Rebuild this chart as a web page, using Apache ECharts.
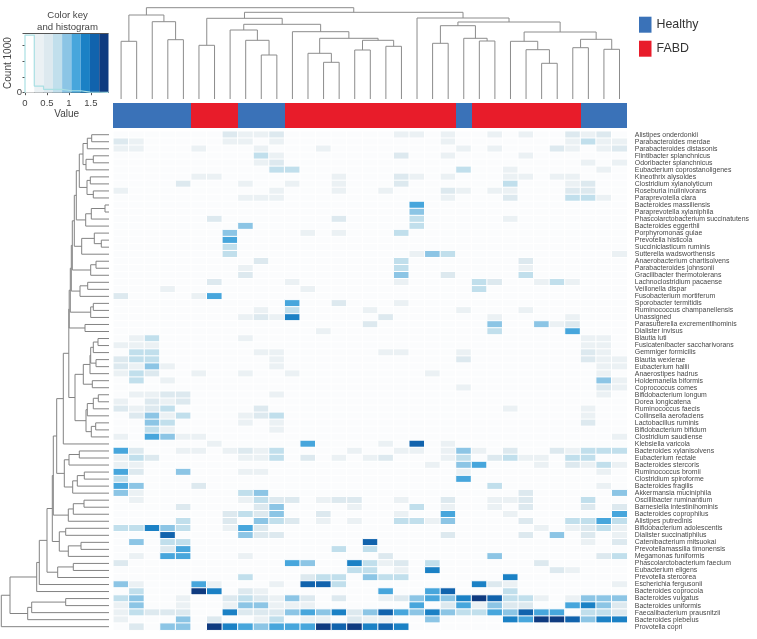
<!DOCTYPE html>
<html><head><meta charset="utf-8">
<style>html,body{margin:0;padding:0;background:#fff}#c{width:757px;height:639px}</style>
<script src="https://cdn.jsdelivr.net/npm/echarts@6/dist/echarts.min.js"></script>
</head><body><div id="c"></div>
<script>
const species = ["Alistipes onderdonkii","Parabacteroides merdae","Parabacteroides distasonis","Flintibacter splanchnicus","Odoribacter splanchnicus","Eubacterium coprostanoligenes","Kineothrix alysoides","Clostridium xylanolyticum","Roseburia inulinivorans","Paraprevotella clara","Bacteroides massiliensis","Paraprevotella xylaniphila","Phascolarctobacterium succinatutens","Bacteroides eggerthii","Porphyromonas gulae","Prevotella histicola","Succiniclasticum ruminis","Sutterella wadsworthensis","Anaerobacterium chartisolvens","Parabacteroides johnsonii","Gracilibacter thermotolerans","Lachnoclostridium pacaense","Veillonella dispar","Fusobacterium mortiferum","Sporobacter termitidis","Ruminococcus champanellensis","Unassigned","Parasutterella excrementihominis","Dialister invisus","Blautia luti","Fusicatenibacter saccharivorans","Gemmiger formicilis","Blautia wexlerae","Eubacterium hallii","Anaerostipes hadrus","Holdemanella biformis","Coprococcus comes","Bifidobacterium longum","Dorea longicatena","Ruminococcus faecis","Collinsella aerofaciens","Lactobacillus ruminis","Bifidobacterium bifidum","Clostridium saudiense","Klebsiella varicola","Bacteroides xylanisolvens","Eubacterium rectale","Bacteroides stercoris","Ruminococcus bromii","Clostridium spiroforme","Bacteroides fragilis","Akkermansia muciniphila","Oscillibacter ruminantium","Barnesiella intestinihominis","Bacteroides coprophilus","Alistipes putredinis","Bifidobacterium adolescentis","Dialister succinatiphilus","Catenibacterium mitsuokai","Prevotellamassilia timonensis","Megamonas funiformis","Phascolarctobacterium faecium","Eubacterium eligens","Prevotella stercorea","Escherichia fergusonii","Bacteroides coprocola","Bacteroides vulgatus","Bacteroides uniformis","Faecalibacterium prausnitzii","Bacteroides plebeius","Provotella copri"];

const groupNames = ["Healthy","FABD"];
const healthyCols = [0,1,2,3,4,8,9,10,22,30,31,32];
const fabdCols = [5,6,7,11,12,13,14,15,16,17,18,19,20,21,23,24,25,26,27,28,29];

const keyMax = 1.9;
const binCount = 9;
const binColors = ["#fbfcfd","#ebf1f4","#dde9ef","#c1dfec","#8cc5e5","#47a6dc","#1b81c5","#1163ad","#0f3b80"];
const keyBandColors = ["#ffffff","#ebf1f4","#dde9ef","#c1dfec","#8cc5e5","#47a6dc","#1b81c5","#1163ad","#0f3b80"];
const histCounts = [3650,420,215,215,125,125,40,30,20];
const keyXTicks = [0,0.5,1,1.5];
const keyYTicks = [0,1000,2000,3000,3750];

// per row: [column, colour-key bin]
const cellBins = [
[[7,2],[8,1],[9,1],[10,2],[18,1],[19,1],[21,1],[24,1],[26,1],[29,2],[30,1],[31,2]],
[[0,2],[1,1],[7,1],[8,1],[10,1],[21,1],[29,1],[30,3],[31,1],[32,1]],
[[0,1],[1,1],[5,1],[9,1],[13,1],[22,1],[24,1],[28,2],[29,1],[31,1],[32,2]],
[[9,3],[10,1],[18,2],[21,1],[26,1]],
[[9,1],[10,2],[30,1],[32,1]],
[[10,3],[11,3],[22,3],[25,1],[31,1]],
[[5,1],[6,1],[14,1],[18,2],[19,1],[21,1],[25,1],[26,1],[28,1],[29,1]],
[[4,2],[8,1],[11,1],[14,1],[18,2],[25,3],[29,1],[30,2]],
[[0,1],[10,1],[14,1],[17,1],[21,2],[22,1],[24,1],[25,1],[29,2],[30,2]],
[[8,1],[9,1],[10,1],[21,1],[25,2],[29,3],[30,3],[31,1]],
[[19,5]],
[[19,4]],
[[6,2],[14,2],[19,3],[25,1]],
[[8,4],[19,3]],
[[7,4],[12,1],[14,1],[18,3]],
[[7,5]],
[[7,3]],
[[7,3],[19,1],[20,4],[21,3],[32,1]],
[[9,2],[18,3],[26,2]],
[[8,1],[18,3],[26,1]],
[[8,2],[18,4],[21,2],[26,3]],
[[6,2],[11,1],[18,1],[23,3],[24,2],[27,1],[28,3],[29,1]],
[[3,1],[12,1],[23,3]],
[[0,2],[5,1],[6,5]],
[[11,5],[14,2],[18,1]],
[[9,1],[11,3],[16,1],[22,1],[26,1]],
[[8,1],[9,2],[10,1],[11,6],[17,2],[24,1],[29,1]],
[[16,2],[24,4],[27,4],[28,1],[29,2]],
[[13,1],[24,3],[29,5]],
[[1,1],[2,3],[8,1],[30,1],[31,1]],
[[0,1],[1,1],[2,1],[30,1],[31,1]],
[[1,3],[2,3],[9,1],[10,1],[17,1],[18,1],[22,1],[30,2],[31,1]],
[[0,2],[1,3],[2,3],[10,1],[22,2],[30,2],[31,1],[32,1]],
[[0,2],[1,1],[2,4],[3,1],[10,1],[31,1],[32,1]],
[[0,1],[1,3],[2,2],[5,1],[8,1],[11,1],[20,1],[31,1]],
[[1,3],[3,1],[31,4],[32,1]],
[[22,1],[31,2],[32,1]],
[[1,1],[2,1],[3,2],[4,2],[10,1],[31,1]],
[[0,1],[2,2],[3,1],[4,2]],
[[0,2],[1,1],[2,2],[3,3],[9,2],[25,1],[30,1]],
[[1,2],[2,4],[3,1],[4,3],[8,1],[9,2],[10,3],[30,1]],
[[2,4],[3,3],[8,1],[10,1],[30,2]],
[[2,3],[3,1],[10,1]],
[[0,1],[2,5],[3,4],[4,1],[5,1],[32,1]],
[[6,1],[12,5],[17,1],[19,7],[21,1]],
[[0,5],[1,2],[4,1],[5,1],[7,1],[8,2],[9,1],[10,3],[15,1],[18,1],[19,1],[21,1],[22,4],[23,1],[25,2],[28,2],[29,1],[30,3],[31,3],[32,3]],
[[0,1],[1,3],[2,2],[8,1],[9,1],[10,3],[12,2],[14,1],[16,1],[17,2],[21,1],[22,3],[24,2],[25,3],[26,1],[27,1],[29,3],[30,3]],
[[0,1],[1,1],[20,1],[22,4],[23,5],[27,1],[29,2],[30,1],[31,3],[32,1]],
[[0,5],[1,2],[4,4],[8,1],[9,1],[22,1],[31,1]],
[[0,3],[22,5]],
[[0,5],[1,4],[5,2],[24,3],[31,1]],
[[0,4],[1,1],[8,3],[9,4],[26,2],[32,4]],
[[1,1],[8,1],[9,3],[10,2],[11,2],[13,1],[14,2],[15,2],[18,1],[21,2],[24,1],[25,1],[26,2],[30,3]],
[[4,2],[9,2],[10,4],[15,1],[19,3],[21,1],[24,1],[26,2],[30,2],[32,2]],
[[7,2],[8,3],[9,2],[10,4],[13,2],[18,1],[21,5],[25,1],[32,5]],
[[4,3],[7,2],[9,4],[10,3],[11,2],[13,1],[15,1],[18,3],[19,3],[20,1],[21,4],[26,2],[29,3],[30,3],[31,5],[32,3]],
[[0,3],[1,3],[2,6],[3,4],[4,3],[7,1],[8,5],[9,2],[27,1],[29,1],[30,2],[31,3],[32,1]],
[[3,7],[8,4],[9,2],[10,2],[21,2],[26,2],[28,4],[30,2],[32,1]],
[[1,4],[3,3],[4,3],[16,7],[30,1],[32,2]],
[[3,2],[4,5],[14,3],[16,3]],
[[1,1],[3,5],[4,5],[8,1],[17,2],[24,4],[31,2],[32,3]],
[[0,2],[11,5],[12,4],[15,6],[16,3],[17,1],[18,2],[20,3],[27,2]],
[[15,3],[16,3],[18,1],[20,6],[28,2],[29,1]],
[[8,3],[12,2],[13,3],[14,3],[16,4],[17,3],[18,3],[25,6]],
[[0,4],[1,1],[5,5],[6,1],[10,1],[12,7],[13,7],[14,3],[23,6],[24,2],[25,1],[32,1]],
[[1,3],[5,8],[6,6],[8,2],[9,1],[17,5],[20,5],[21,7],[25,3]],
[[0,3],[1,4],[4,1],[7,2],[8,3],[9,2],[10,1],[11,4],[12,2],[14,2],[17,1],[18,2],[19,4],[20,5],[21,4],[22,6],[23,8],[24,7],[25,3],[26,3],[27,1],[29,1],[30,4],[31,4],[32,4]],
[[0,1],[1,4],[4,1],[7,1],[8,4],[9,4],[10,1],[11,1],[12,1],[19,5],[21,2],[22,5],[23,1],[24,4],[25,2],[26,2],[29,5],[30,6],[31,4],[32,2]],
[[0,1],[1,3],[2,2],[3,2],[4,2],[7,6],[8,2],[9,2],[10,2],[11,4],[12,5],[13,4],[14,6],[15,2],[16,4],[17,7],[18,5],[19,4],[20,6],[21,4],[22,3],[23,3],[24,5],[25,4],[26,7],[27,5],[28,5],[30,3],[31,3],[32,2]],
[[0,1],[4,4],[6,2],[9,1],[10,3],[12,1],[13,1],[15,2],[16,1],[17,1],[20,4],[25,6],[26,5],[27,8],[28,8],[29,7],[30,4],[31,6],[32,6]],
[[1,2],[3,4],[4,4],[6,8],[7,6],[8,5],[9,4],[10,5],[11,5],[12,5],[13,8],[14,7],[15,8],[16,6],[17,7],[18,6]]
];

// dendrograms: [merge height, child, child]; a plain number is a leaf
const topTree = [91.3,
  [84,[57.7,0,1],[77.3,2,[59.3,3,4]]],
  [86.7,
    [80.7,[53.7,5,6],[74.7,
      [69,7,[58.7,8,[44,9,10]]],
      [67.3,11,[60.7,[45.7,12,[36.7,13,14]],[58.7,[49,15,16],[52.7,17,18]]]]
    ]],
    [81,19,[77,
      [73.3,[55.7,20,21],[60.7,22,[58,23,24]]],
      [67,[57.7,25,[49.3,26,[35.7,27,28]]],[59.7,[51.3,29,30],[49.7,31,32]]]
    ]]
  ]
];

const rowsA = [32.7,
  [29.7,
    [26,[21.7,[17.3,0,1],2],[23,[15.7,3,4],5]],
    [22,[18.7,6,7],[15.7,8,9]]],
  [23.3,[17.7,[4,10,11],12],13]];
const rowsB = [27.3,[14.7,14,[7.7,15,16]],17];
const rowsC = [18.3,[13,18,19],20];
const rowsD = [29,[21.3,21,22],23];
const rowsE = [18.3,[15.7,24,25],26];
const rowsF = [24,27,28];
const rowsG = [25.7,[19,[18.3,[15.7,[11,29,30],31],[13,32,33]],34],[16.7,35,36]];
const rowsH = [23,[21.7,[15.7,[10.7,37,38],39],40],[17.7,[13.3,41,42],43]];
const rowsI = [44.7,[40,[29.7,45,46],47],[36.3,[31.7,[24.7,48,49],50],51]];
const rowsJ = [40.7,[35.7,[25,52,53],54],55];
const rowsK = [49.7,[43.3,56,57],[40.7,[28,58,59],60]];
const rowsL = [51.3,[35.7,61,62],63];
const rowsM = [81.3,[77.3,[43.3,66,67],68],69];
const upper = [39.8,[38.7,[37.7,[36.7,[34.7,rowsA,rowsB],rowsC],rowsD],rowsE],rowsF];
const middle = [52.3,[45.7,[40.2,upper,[34,rowsG,rowsH]],44],rowsI];
const core = [62,[56.7,[55.7,middle,rowsJ],rowsK],rowsL];
const leftTree = [107.7,[99,[72.3,[69.7,core,64],65],rowsM],70];

const colCount = 33;
const samples = [];
for (let i = 0; i < colCount; i++) samples.push("S" + (i + 1));
const binW = keyMax / binCount;

const heatData = [];
cellBins.forEach(function (row, r) {
  const m = {};
  row.forEach(function (p) { m[p[0]] = p[1]; });
  for (let c = 0; c < colCount; c++) {
    const bin = m[c] || 0;
    heatData.push([c, r, (bin + 0.5) * binW]);
  }
});

function treeSegments(tree) {
  const segs = [];
  function walk(n) {
    if (typeof n === "number") return [n + 0.5, 0];
    const a = walk(n[1]);
    const b = walk(n[2]);
    segs.push([a[0], a[1], b[0], b[1], n[0]]);
    return [(a[0] + b[0]) / 2, n[0]];
  }
  walk(tree);
  return segs;
}
function treeRender(horizontal, color) {
  return function (params, api) {
    function pt(p, h) { return api.coord(horizontal ? [p, h] : [h, p]); }
    const p1 = api.value(0), h1 = api.value(1), p2 = api.value(2), h2 = api.value(3), top = api.value(4);
    return {
      type: "polyline",
      shape: { points: [pt(p1, h1), pt(p1, top), pt(p2, top), pt(p2, h2)] },
      style: { stroke: color, lineWidth: 1, fill: null }
    };
  };
}
function columnRender(color) {
  return function (params, api) {
    const a = api.coord([api.value(0), 1]);
    const b = api.coord([api.value(0) + 1, 0]);
    const x0 = Math.round(a[0]), x1 = Math.round(b[0]);
    return { type: "rect", shape: { x: x0, y: a[1], width: x1 - x0, height: b[1] - a[1] }, style: { fill: color } };
  };
}
function colRows(cols) { return cols.map(function (c) { return [c]; }); }

const histLine = [[0, 0]];
histCounts.forEach(function (h, i) {
  histLine.push([i * binW, h]);
  histLine.push([(i + 1) * binW, h]);
});
const bandData = keyBandColors.map(function (c, i) { return [i * binW, (i + 1) * binW]; });
const pieces = binColors.map(function (c, i) { return { min: i * binW, max: (i + 1) * binW, color: c }; });

const hidden = { show: false };
const lab = "Liberation Sans";
const chart = echarts.init(document.getElementById("c"), null, { renderer: "canvas" });
chart.setOption({
  animation: false,
  textStyle: { fontFamily: lab },
  title: { text: "Color key\nand histogram", left: 62.5, top: 5, textAlign: "center",
    textStyle: { fontSize: 9.6, lineHeight: 11.5, fontWeight: "normal", color: "#444", fontFamily: lab } },
  legend: { data: groupNames, orient: "vertical", left: 639, top: 16.7, padding: 0, itemWidth: 12.5, itemHeight: 16, itemGap: 8, icon: "rect",
    selectedMode: false, textStyle: { fontSize: 12.4, color: "#333", fontFamily: lab } },
  visualMap: { show: false, type: "piecewise", seriesIndex: 0, dimension: 2, pieces: pieces },
  grid: [
    { left: 113.3, top: 131.2, width: 514, height: 499 },
    { left: 113.3, top: 4, width: 514, height: 95 },
    { left: 0, top: 131.2, width: 109, height: 499 },
    { left: 113.3, top: 103, width: 514, height: 25 },
    { left: 25, top: 33.5, width: 83.5, height: 59.2 }
  ],
  xAxis: [
    { gridIndex: 0, type: "category", data: samples, show: false },
    { gridIndex: 1, type: "value", min: 0, max: 33, show: false },
    { gridIndex: 2, type: "value", min: 0, max: 109, inverse: true, show: false },
    { gridIndex: 3, type: "value", min: 0, max: 33, show: false },
    { gridIndex: 4, type: "value", min: 0, max: keyMax, name: "Value", nameLocation: "middle", nameGap: 15.5,
      nameTextStyle: { fontSize: 10, color: "#444" }, splitLine: hidden,
      axisLine: { lineStyle: { color: "#555" } },
      axisTick: { length: 2.5, lineStyle: { color: "#555" }, customValues: keyXTicks },
      axisLabel: { fontSize: 9.5, color: "#444", margin: 5.5, customValues: keyXTicks } }
  ],
  yAxis: [
    { gridIndex: 0, type: "category", data: species, inverse: true, position: "right",
      axisLine: hidden, axisTick: hidden,
      axisLabel: { interval: 0, fontSize: 6.9, color: "#484848", margin: 7.5, hideOverlap: false } },
    { gridIndex: 1, type: "value", min: 0, max: 95, show: false },
    { gridIndex: 2, type: "value", min: 0, max: 71, inverse: true, show: false },
    { gridIndex: 3, type: "value", min: 0, max: 1, show: false },
    { gridIndex: 4, type: "value", min: 0, max: 3750, name: "Count 1000", nameLocation: "middle", nameRotate: 90, nameGap: 11,
      nameTextStyle: { fontSize: 10, color: "#444" }, splitLine: hidden,
      axisLine: { show: true, lineStyle: { color: "#555" } },
      axisTick: { show: true, length: 2.5, lineStyle: { color: "#555" }, customValues: keyYTicks },
      axisLabel: { fontSize: 9.5, color: "#444", margin: 3, customValues: [0] } }
  ],
  series: [
    { type: "heatmap", xAxisIndex: 0, yAxisIndex: 0, data: heatData, silent: true,
      itemStyle: { borderColor: "#fff", borderWidth: 1 } },
    { type: "custom", xAxisIndex: 1, yAxisIndex: 1, data: treeSegments(topTree), renderItem: treeRender(true, "#8c8c8c"), silent: true, clip: false },
    { type: "custom", xAxisIndex: 2, yAxisIndex: 2, data: treeSegments(leftTree), renderItem: treeRender(false, "#838383"), silent: true, clip: false },
    { name: "Healthy", type: "custom", xAxisIndex: 3, yAxisIndex: 3, silent: true, itemStyle: { color: "#3a72b8" },
      data: colRows(healthyCols), renderItem: columnRender("#3a72b8") },
    { name: "FABD", type: "custom", xAxisIndex: 3, yAxisIndex: 3, silent: true, itemStyle: { color: "#e81c2a" },
      data: colRows(fabdCols), renderItem: columnRender("#e81c2a") },
    { type: "custom", xAxisIndex: 4, yAxisIndex: 4, data: bandData, silent: true,
      renderItem: function (p, api) {
        const a = api.coord([api.value(0), 3750]);
        const b = api.coord([api.value(1), 0]);
        return { type: "rect", shape: { x: a[0], y: a[1], width: b[0] - a[0], height: b[1] - a[1] },
          style: { fill: keyBandColors[p.dataIndex] } };
      } },
    { type: "line", xAxisIndex: 4, yAxisIndex: 4, data: histLine, showSymbol: false, silent: true, z: 5,
      lineStyle: { color: "#a9dfe3", width: 1.2 },
      markLine: { silent: true, symbol: "none", label: hidden, lineStyle: { color: "#555", type: "solid", width: 1 }, data: [{ yAxis: 3750 }] } }
  ]
});
</script></body></html>
